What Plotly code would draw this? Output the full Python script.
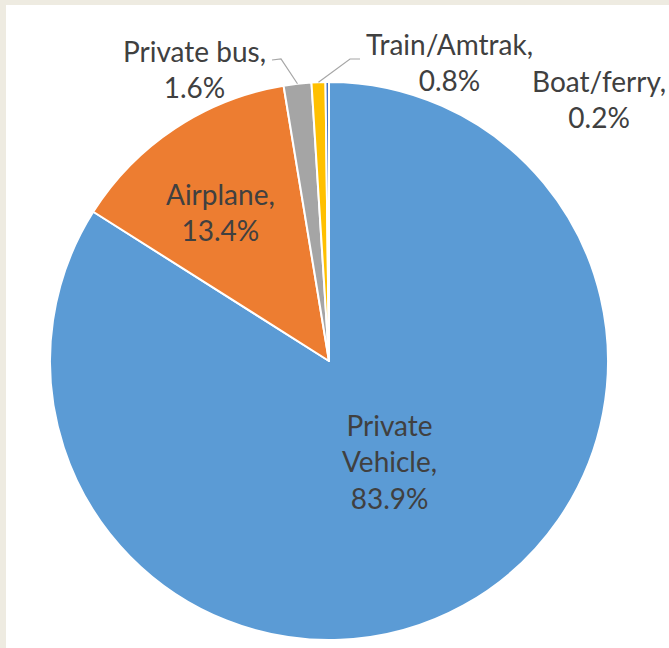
import numpy as np
import plotly.graph_objects as go

# Share of trips by travel mode (%)
modes = ["Private Vehicle", "Airplane", "Private bus", "Train/Amtrak", "Boat/ferry"]
shares = [83.9, 13.4, 1.6, 0.8, 0.2]
colors = ["#5B9BD5", "#ED7D31", "#A5A5A5", "#FFC000", "#4472C4"]

W, H = 669, 648
CX, CY, R = 329.0, 361.0, 279.0  # pie centre / radius in pixels


def px(x):
    return x / W


def py(y):
    return 1 - y / H


fig = go.Figure(
    go.Pie(
        labels=modes,
        values=shares,
        sort=False,
        direction="clockwise",
        rotation=0,
        marker=dict(colors=colors, line=dict(color="white", width=2)),
        textinfo="none",
        showlegend=False,
        domain=dict(x=[px(CX - R), px(CX + R)], y=[py(CY + R), py(CY - R)]),
    )
)

# angular mid-point of every slice, clockwise from 12 o'clock
frac = np.array(shares) / sum(shares)
mid = (np.cumsum(frac) - frac / 2) * 2 * np.pi


def edge_point(i):
    return CX + R * np.sin(mid[i]), CY - R * np.cos(mid[i])


font = dict(family="Lato, Calibri, sans-serif", size=28, color="#404040")

# label text and placement (pixel centres)
label_pos = [(389, 461), (220, 212), (194, 69), (449, 62), (599, 99)]
for i, (name, v) in enumerate(zip(modes, shares)):
    name_txt = name.replace(" ", "<br>") if i == 0 else name
    x, y = label_pos[i]
    fig.add_annotation(
        x=px(x), y=py(y), xref="paper", yref="paper",
        text=f"{name_txt},<br>{v:.1f}%",
        showarrow=False, xanchor="center", yanchor="middle", align="center",
        font=font,
    )

# leader lines for the two small outside labels
leaders = {2: [(272, 60), (281, 59)], 3: [(360, 59), (350, 59)]}
for i, pts in leaders.items():
    ex, ey = edge_point(i)
    path = [pts[0], pts[1], (ex, ey)]
    d = "M " + " L ".join(f"{px(a):.5f},{py(b):.5f}" for a, b in path)
    fig.add_shape(type="path", path=d, xref="paper", yref="paper",
                  line=dict(color="#A6A6A6", width=1.2), layer="above")

# white card on the beige page
fig.add_shape(type="rect", xref="paper", yref="paper",
              x0=px(6), x1=1, y0=0, y1=py(5),
              fillcolor="white", line=dict(width=0), layer="below")

fig.update_layout(
    width=W, height=H,
    margin=dict(l=0, r=0, t=0, b=0),
    paper_bgcolor="#EEEBE1",
    plot_bgcolor="white",
)

fig.write_html("out.html")
